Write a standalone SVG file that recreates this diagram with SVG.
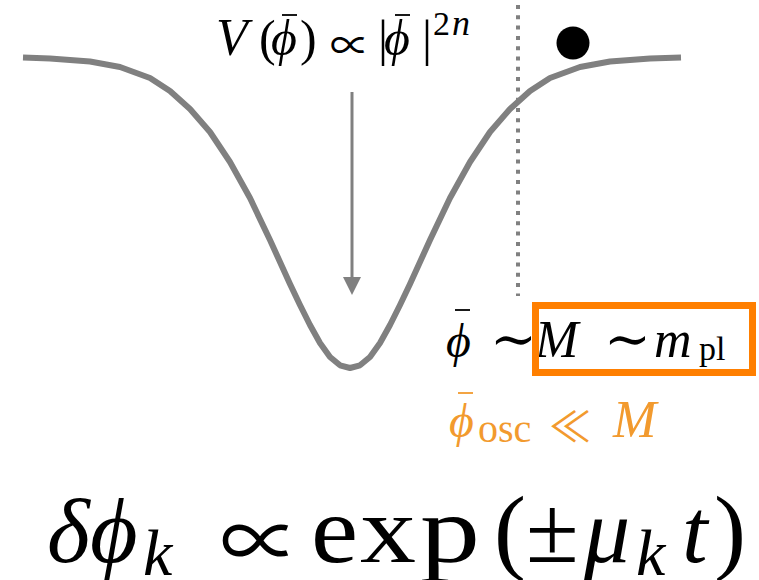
<svg xmlns="http://www.w3.org/2000/svg" width="759" height="580" viewBox="0 0 759 580">
<style>
.m{font-family:"Liberation Serif","DejaVu Serif",serif;fill:#000}
.op{font-family:"Noto Sans CJK JP","DejaVu Sans",sans-serif;font-style:normal}
.tl{font-family:"DejaVu Serif","Liberation Serif",serif;fill:#000}
.it{font-style:italic}
.bar{stroke:#000;stroke-width:1.8}
.or{fill:#F29A2E}
.orbar{stroke:#F29A2E;stroke-width:1.8}
.gray{stroke:#808080;fill:none}
</style>
<rect width="759" height="580" fill="#fff"/>
<g id="potential">
<path class="gray" stroke-width="6" stroke-linejoin="round" d="M23,57.5 L50,58.5 L90,61.5 L120,67 L150,78 L170,91 L190,109 L210,132 L230,162 L250,198 L270,240 L290,284 L300,305 L310,325 L320,343 L330,357 L340,365.3 L350,368 L360,365.3 L370,357 L380,343 L390,325 L400,305 L410,284 L430,240 L450,198 L470,162 L490,132 L510,109 L530,91 L550,78 L580,67 L610,61.5 L650,58.5 L681,57.5"/>
</g>
<g id="threshold">
<line class="gray" x1="518" y1="5" x2="518" y2="296" stroke-width="4" stroke-dasharray="4 6.3"/>
</g>
<g id="ball">
<circle cx="573" cy="43" r="16.5" fill="#000"/>
</g>
<g id="connectors">
<line x1="352" y1="92" x2="352" y2="280" stroke="#808080" stroke-width="3"/>
<path d="M343,277 L361,277 L352,295 Z" fill="#808080"/>
</g>
<g id="label-potential">
<text class="m it" x="216" y="55" font-size="52">V</text>
<text class="m" x="259" y="55" font-size="50">(</text>
<text class="m it" x="271" y="55" font-size="50">ϕ</text>
<line class="bar" x1="282" y1="15" x2="297" y2="15"/>
<text class="m" x="300" y="55" font-size="50">)</text>
<text class="op" x="330" y="60" font-size="40">∝</text>
<text class="m" x="378" y="55" font-size="50">|</text>
<text class="m it" x="384" y="55" font-size="50">ϕ</text>
<line class="bar" x1="395" y1="15" x2="410" y2="15"/>
<text class="m" x="422" y="55" font-size="50">|</text>
<text class="m" x="433" y="35" font-size="34">2</text>
<text class="m it" x="452" y="35" font-size="36">n</text>
</g>
<g id="label-mass">
<text class="m it" x="446" y="357" font-size="48">ϕ</text>
<line class="bar" x1="455" y1="310" x2="470" y2="310"/>
<text class="tl" x="490" y="358" font-size="56">∼</text>
<text class="m it" x="535" y="357" font-size="52">M</text>
<text class="tl" x="604" y="358" font-size="56">∼</text>
<text class="m it" x="654" y="357" font-size="52">m</text>
<text class="m" x="699" y="360" font-size="34">pl</text>
</g>
<g id="box">
<rect x="535.5" y="305.5" width="217" height="67" fill="none" stroke="#FF7F00" stroke-width="7"/>
</g>
<g id="label-osc">
<text class="m it or" x="449" y="437" font-size="48">ϕ</text>
<line class="orbar" x1="458" y1="393" x2="473" y2="393"/>
<text class="m or" x="478" y="442" font-size="40">osc</text>
<text class="op or" x="549" y="442" font-size="42">≪</text>
<text class="m it or" x="613" y="437" font-size="52">M</text>
</g>
<g id="label-growth">
<text class="m it" x="47" y="562" font-size="92">δ</text>
<text class="m it" x="90" y="562" font-size="92">ϕ</text>
<text class="m it" x="143" y="575" font-size="66">k</text>
<text class="op" x="220" y="570" font-size="80">∝</text>
<text class="m" x="311" y="562" font-size="96" textLength="47" lengthAdjust="spacingAndGlyphs">e</text>
<text class="m" x="360" y="562" font-size="96" textLength="56" lengthAdjust="spacingAndGlyphs">x</text>
<text class="m" x="420" y="562" font-size="96" textLength="60" lengthAdjust="spacingAndGlyphs">p</text>
<text class="m" x="494" y="562" font-size="96">(</text>
<text class="m" x="526" y="562" font-size="96">±</text>
<text class="m it" x="584" y="562" font-size="92">μ</text>
<text class="m it" x="636" y="575" font-size="66">k</text>
<text class="m it" x="682" y="562" font-size="92">t</text>
<text class="m" x="714" y="562" font-size="96">)</text>
</g>
</svg>
